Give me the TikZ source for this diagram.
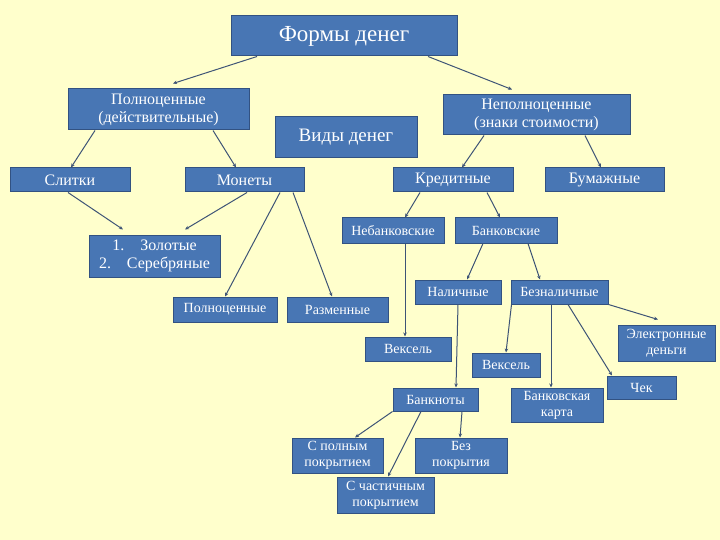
\documentclass[tikz,border=0pt]{standalone}
\usepackage{fontspec}
\setmainfont{Liberation Serif}
\newfontfamily\rufont{Liberation Serif}
\usetikzlibrary{arrows.meta}
\definecolor{mnBack}{RGB}{255,255,204}
\definecolor{mnBox}{RGB}{72,118,180}
\definecolor{mnEdge}{RGB}{50,82,130}
\definecolor{mnLine}{RGB}{62,84,118}

\begin{document}
\begin{tikzpicture}[x=1pt,y=-1pt,
    box/.style={draw=mnEdge,fill=mnBox,line width=1pt,text=white,inner sep=0pt,align=center,font=\rufont\fontsize{14}{16}\selectfont},
    bigbox/.style={box,font=\rufont\fontsize{16}{18}\selectfont},
    conn/.style={draw=mnLine,line width=1pt,-{Stealth[length=4pt,width=3.5pt]}}]
    % background and page size
    \fill[mnBack] (0,0) rectangle (720,540);
    \useasboundingbox (0,0) rectangle (720,540);

    % top level
    \node[box,minimum width=226pt,minimum height=40pt,font=\rufont\fontsize{23}{25}\selectfont] (forms) at (344,36) {Формы денег};
    \node[bigbox,minimum width=181pt,minimum height=41pt] (full) at (158.5,109.5) {Полноценные\\(действительные)};
    \node[box,minimum width=142pt,minimum height=41pt,font=\rufont\fontsize{19}{21}\selectfont] (kinds) at (346,137.5) {Виды денег};
    \node[bigbox,minimum width=187pt,minimum height=40pt] (nonfull) at (536.5,115) {Неполноценные\\(знаки стоимости)};

    % second row
    \node[bigbox,minimum width=120pt,minimum height=24pt] (ingots) at (70,180) {Слитки};
    \node[bigbox,minimum width=119pt,minimum height=24pt] (coins) at (244.5,180) {Монеты};
    \node[bigbox,minimum width=120pt,minimum height=24pt] (credit) at (453,180) {Кредитные};
    \node[bigbox,minimum width=119pt,minimum height=24pt] (paper) at (604.5,180) {Бумажные};

    % metal coins
    \node[bigbox,minimum width=131pt,minimum height=42pt] (metals) at (154.5,256) {1.\quad Золотые\\2.\quad Серебряные};
    \node[box,minimum width=104pt,minimum height=25pt] (fullcoin) at (225,309.5) {Полноценные};
    \node[box,minimum width=101pt,minimum height=25pt] (change) at (337.5,309.5) {Разменные};

    % credit money
    \node[box,minimum width=102pt,minimum height=25pt] (nonbank) at (393,230.5) {Небанковские};
    \node[box,minimum width=102pt,minimum height=25pt] (bank) at (506,230.5) {Банковские};
    \node[box,minimum width=86pt,minimum height=24pt] (cash) at (458,292) {Наличные};
    \node[box,minimum width=97pt,minimum height=24pt] (noncash) at (559.5,292) {Безналичные};
    \node[box,minimum width=86pt,minimum height=24pt] (bill1) at (408,349) {Вексель};
    \node[box,minimum width=68pt,minimum height=24pt] (bill2) at (506,365) {Вексель};
    \node[box,minimum width=85pt,minimum height=23pt] (notes) at (435.5,399.5) {Банкноты};
    \node[box,minimum width=92pt,minimum height=34pt] (card) at (557,405) {Банковская\\карта};
    \node[box,minimum width=69pt,minimum height=23pt] (cheque) at (641.5,387.5) {Чек};
    \node[box,minimum width=97pt,minimum height=36pt] (emoney) at (666.5,343) {Электронные\\деньги};

    % bank notes
    \node[box,minimum width=91pt,minimum height=35pt] (fullcov) at (337.5,455.5) {С полным\\покрытием};
    \node[box,minimum width=92pt,minimum height=35pt] (nocov) at (461,455.5) {Без\\покрытия};
    \node[box,minimum width=97pt,minimum height=36pt] (partcov) at (385.5,495) {С частичным\\покрытием};

    % connectors
    \draw[conn] ([xshift=-87pt]forms.south) -- ([xshift=14.5pt,yshift=5pt]full.north);
    \draw[conn] ([xshift=84pt]forms.south) -- ([xshift=-24.5pt,yshift=5pt]nonfull.north);
    \draw[conn] ([xshift=-63.5pt]full.south) -- ([xshift=1pt]ingots.north);
    \draw[conn] ([xshift=54.5pt]full.south) -- ([xshift=-8.5pt]coins.north);
    \draw[conn] ([xshift=-52.5pt]nonfull.south) -- ([xshift=9pt]credit.north);
    \draw[conn] ([xshift=48.5pt]nonfull.south) -- ([xshift=-3.5pt]paper.north);
    \draw[conn] ([xshift=-2pt]ingots.south) -- ([xshift=-31.5pt,yshift=5pt]metals.north);
    \draw[conn] ([xshift=2.5pt]coins.south) -- ([xshift=30.5pt,yshift=5pt]metals.north);
    \draw[conn] ([xshift=35.5pt]coins.south) -- (fullcoin.north);
    \draw[conn] ([xshift=48.5pt]coins.south) -- ([xshift=-5.5pt]change.north);
    \draw[conn] ([xshift=-33pt]credit.south) -- ([xshift=12pt]nonbank.north);
    \draw[conn] ([xshift=34pt]credit.south) -- ([xshift=-6pt]bank.north);
    \draw[conn] ([xshift=12pt]nonbank.south) -- ([xshift=-3pt]bill1.north);
    \draw[conn] ([xshift=-23pt]bank.south) -- ([xshift=9pt]cash.north);
    \draw[conn] ([xshift=22pt]bank.south) -- ([xshift=-19.5pt]noncash.north);
    \draw[conn] (cash.south) -- ([xshift=20.5pt]notes.north);
    \draw[conn] ([xshift=-48pt]noncash.south) -- (bill2.north);
    \draw[conn] ([xshift=-8.5pt]noncash.south) -- ([xshift=-6pt]card.north);
    \draw[conn] ([xshift=8.5pt]noncash.south) -- ([xshift=-29.5pt]cheque.north);
    \draw[conn] (noncash.south east) -- ([xshift=-8.5pt,yshift=5pt]emoney.north);
    \draw[conn] (notes.south west) -- ([xshift=17.5pt]fullcov.north);
    \draw[conn] ([xshift=-14.5pt]notes.south) -- ([xshift=2.5pt]partcov.north);
    \draw[conn] ([xshift=26.5pt]notes.south) -- ([xshift=-1pt]nocov.north);
\end{tikzpicture}
\end{document}
